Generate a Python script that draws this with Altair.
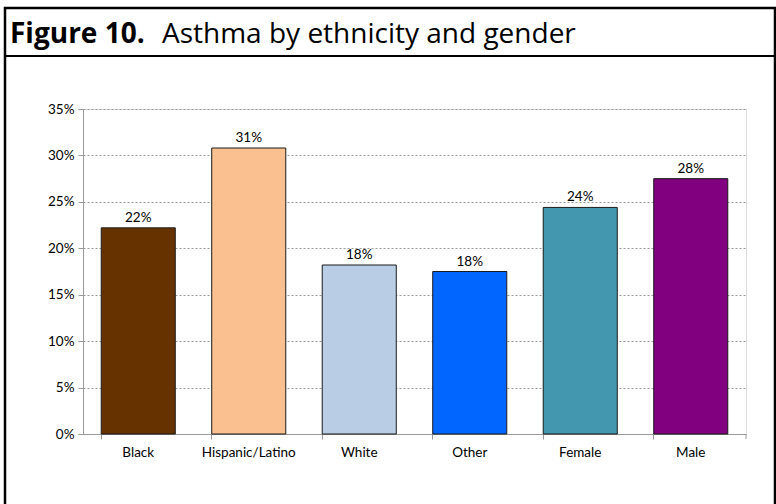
import altair as alt
import pandas as pd

# Asthma prevalence by group
groups = ["Black", "Hispanic/Latino", "White", "Other", "Female", "Male"]
rates = [0.222, 0.308, 0.182, 0.175, 0.244, 0.275]
bar_colors = ["#663300", "#FAC090", "#B9CDE4", "#0066FF", "#4397AE", "#800080"]
y_ticks = [0, 0.05, 0.10, 0.15, 0.20, 0.25, 0.30, 0.35]

fig_label = "Figure 10."
fig_title = "Asthma by ethnicity and gender"

df = pd.DataFrame({"group": groups, "rate": rates})

W, H = 663, 325
FONT = "Lato"
TITLE_FONT = "Open Sans"
TITLE_SIZE = 28
LABEL_SIZE = 13.5

x_enc = alt.X(
    "group:N",
    sort=groups,
    scale=alt.Scale(paddingInner=0.33, paddingOuter=0.165),
    axis=alt.Axis(
        title=None, labelAngle=0, bandPosition=0, tickSize=5,
        tickColor="#999999", domainColor="#999999", labelFont=FONT,
        labelFontSize=LABEL_SIZE, labelColor="#000000", labelPadding=6, grid=False,
    ),
)
y_enc = alt.Y(
    "rate:Q",
    scale=alt.Scale(domain=[0, 0.35], nice=False),
    axis=alt.Axis(
        title=None, values=y_ticks, format=".0%", tickSize=5,
        tickColor="#999999", domainColor="#999999", grid=True,
        gridColor="#999999", gridDash=[2, 2], gridWidth=1,
        labelFont=FONT, labelFontSize=LABEL_SIZE, labelColor="#000000", labelPadding=4,
    ),
)

bars = alt.Chart(df).mark_bar(stroke="#1a1a1a", strokeWidth=1).encode(
    x=x_enc,
    y=y_enc,
    color=alt.Color("group:N", scale=alt.Scale(domain=groups, range=bar_colors), legend=None),
)

labels = alt.Chart(df).mark_text(
    baseline="bottom", dy=-3, font=FONT, fontSize=LABEL_SIZE, color="#000000"
).encode(
    x=alt.X("group:N", sort=groups),
    y="rate:Q",
    text=alt.Text("rate:Q", format=".0%"),
)

one = alt.Data(values=[{}])

# closing tick at the right end of the category axis
end_tick = alt.Chart(one).mark_rule(color="#999999", strokeWidth=1).encode(
    x=alt.value(W), y=alt.value(H), y2=alt.value(H + 5)
)

# figure frame and title band
frame = alt.Chart(one).mark_rect(
    fillOpacity=0, stroke="#000000", strokeWidth=2.5
).encode(
    x=alt.value(-78), x2=alt.value(692), y=alt.value(-101), y2=alt.value(420)
)
band_rule = alt.Chart(one).mark_rule(color="#000000", strokeWidth=2).encode(
    x=alt.value(-78), x2=alt.value(692), y=alt.value(-53)
)
title_bold = alt.Chart(one).mark_text(
    align="left", baseline="alphabetic", font=TITLE_FONT, fontSize=TITLE_SIZE,
    fontWeight="bold", color="#000000"
).encode(x=alt.value(-73), y=alt.value(-66), text=alt.value(fig_label))
title_rest = alt.Chart(one).mark_text(
    align="left", baseline="alphabetic", font=TITLE_FONT, fontSize=TITLE_SIZE,
    color="#000000"
).encode(x=alt.value(79), y=alt.value(-66), text=alt.value(fig_title))

chart = alt.layer(
    bars, labels, end_tick, frame, band_rule, title_bold, title_rest
).properties(
    width=W, height=H,
    autosize=alt.AutoSizeParams(type="none"),
    padding={"left": 83, "top": 109, "right": 30, "bottom": 70},
).configure_view(stroke=None).configure(background="#ffffff")

chart.save("out.html", embed_options={"renderer": "svg", "actions": False})
